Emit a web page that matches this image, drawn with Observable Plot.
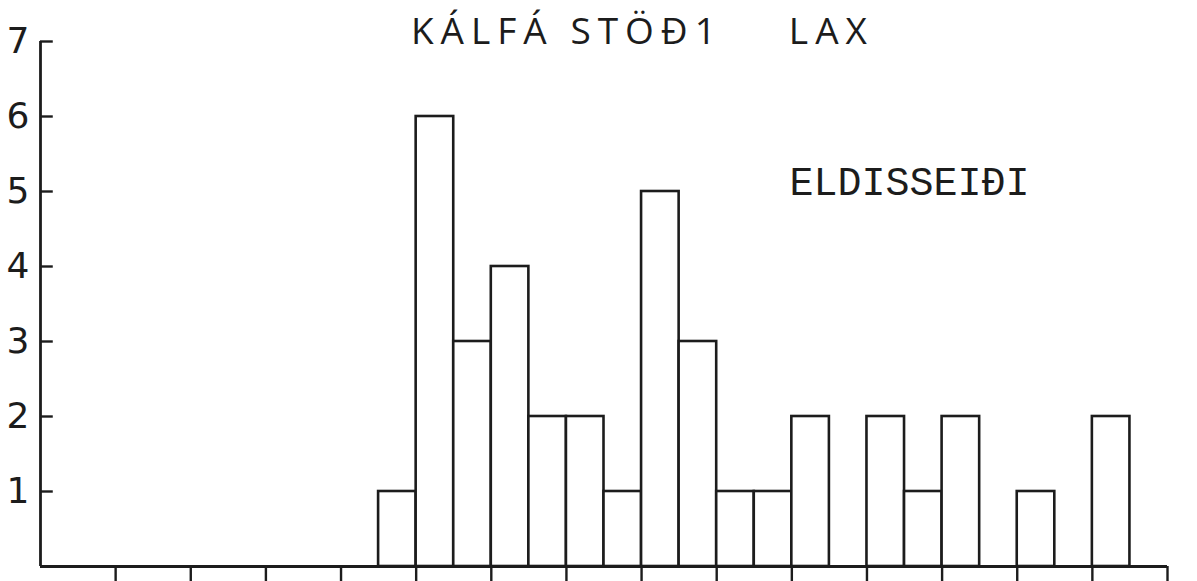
<!DOCTYPE html>
<html>
<head>
<meta charset="utf-8">
<script src="https://cdn.jsdelivr.net/npm/d3@7"></script>
<script src="https://cdn.jsdelivr.net/npm/@observablehq/plot@0.6"></script>
<style>
  html, body { margin: 0; padding: 0; background: #fff; }
  #chart svg { display: block; }
</style>
</head>
<body>
<div id="chart"></div>
<script>
// Data (class width 0.5 along the x axis, counts on y)
const binStarts = [0, 0.5, 1, 1.5, 2, 2.5, 3, 3.5, 4, 4.5, 5, 5.5, 6, 6.5, 7, 7.5, 8, 8.5, 9, 9.5, 10, 10.5, 11, 11.5, 12, 12.5, 13, 13.5, 14, 14.5];
const counts    = [0, 0,   0, 0,   0, 0,   0, 0,   0, 1,   6, 3,   4, 2,   2, 1,   5, 3,   1, 1,   2, 0,    2, 1,    2, 0,    1, 0,    2, 0];
const binWidth = 0.5;
const xTicks = [1, 2, 3, 4, 5, 6, 7, 8, 9, 10, 11, 12, 13, 14, 15];
const yTicks = [1, 2, 3, 4, 5, 6, 7];
const titleMain = "KÁLFÁ STÖÐ1";
const titleSpecies = "LAX";
const seriesLabel = "ELDISSEIÐI";

const bins = binStarts.map((x, i) => ({x1: x, x2: x + binWidth, y: counts[i]}));
const ink = "#1c1c1c";

const chart = Plot.plot({
  width: 1197,
  height: 581,
  marginLeft: 40,
  marginRight: 30,
  marginTop: 41,
  marginBottom: 15,
  x: {domain: [0, 15], axis: null},
  y: {domain: [0, 7], axis: null},
  style: {background: "white", color: ink},
  marks: [
    Plot.rectY(bins.filter(d => d.y > 0), {x1: "x1", x2: "x2", y: "y", fill: "white", stroke: ink, strokeWidth: 2.6}),
    Plot.ruleX([0], {y1: 0, y2: 7, stroke: ink, strokeWidth: 2.8}),
    Plot.ruleY([0], {x1: 0, x2: 15, stroke: ink, strokeWidth: 2.8}),
    Plot.ruleY(yTicks, {y: d => d, x1: 0, x2: 0.17, stroke: ink, strokeWidth: 2.4}),
    Plot.axisX({ticks: xTicks, tickSize: 15, tickFormat: () => "", label: null, stroke: ink, strokeWidth: 2.4}),
    Plot.axisY({ticks: yTicks, tickSize: 0, tickPadding: 11, tickFormat: d3.format("d"), label: null, fontSize: 36, fontFamily: "DejaVu Sans", fill: ink}),
    Plot.text([titleMain], {x: 4.93, y: 7.13, text: d => d, textAnchor: "start", lineAnchor: "middle", fontSize: 37, fontFamily: "Open Sans", fill: ink}),
    Plot.text([titleSpecies], {x: 9.96, y: 7.13, text: d => d, textAnchor: "start", lineAnchor: "middle", fontSize: 37, fontFamily: "Open Sans", fill: ink}),
    Plot.text([seriesLabel], {x: 9.97, y: 5.12, text: d => d, textAnchor: "start", lineAnchor: "middle", fontSize: 40, fontFamily: "Liberation Mono", fill: ink})
  ]
});

d3.select(chart).selectAll("text")
  .filter(function () { return this.textContent === titleMain || this.textContent === titleSpecies; })
  .style("letter-spacing", "7px");
document.getElementById("chart").appendChild(chart);
</script>
</body>
</html>
